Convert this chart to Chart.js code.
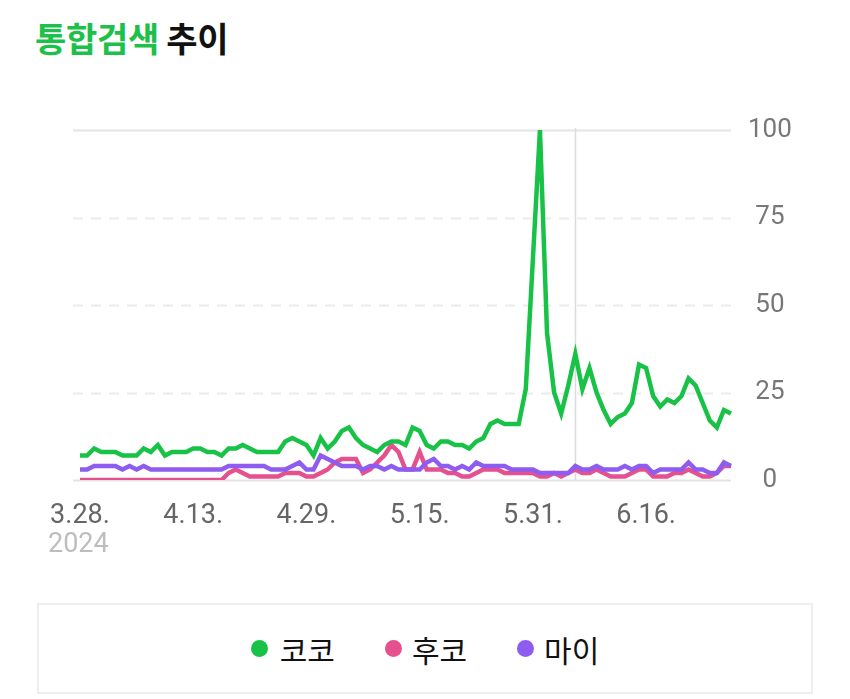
<!DOCTYPE html>
<html>
<head>
<meta charset="utf-8">
<script src="https://cdn.jsdelivr.net/npm/chart.js@4.4.1/dist/chart.umd.min.js"></script>
<style>
  html, body { margin: 0; padding: 0; background: #fff; width: 850px; height: 699px; overflow: hidden; }
  #title { position: absolute; left: 35px; top: 13px; font-family: "Noto Sans CJK KR", sans-serif; font-weight: 700; font-size: 34px; letter-spacing: -0.3px; color: #111; white-space: nowrap; }
  #title .g { color: #1cc04a; }
  #chartWrap { position: absolute; left: 0; top: 0; width: 850px; height: 560px; }
  #year { position: absolute; left: 48px; top: 527px; font-family: Roboto, sans-serif; font-size: 27px; color: #bdbdbd; }
  #legend { position: absolute; left: 37px; top: 603px; width: 776px; height: 91px; border: 2px solid #eeeeee; box-sizing: border-box; display: flex; justify-content: center; align-items: center; font-family: "Noto Sans CJK KR", sans-serif; font-size: 30px; color: #111; }
  #legend .item { display: flex; align-items: center; margin: 0 25px; }
  #legend .dot { width: 17px; height: 17px; border-radius: 50%; margin-right: 10px; }
  #legend .item:first-child .dot { margin-right: 12px; }
</style>
</head>
<body>
<div id="title"><span class="g">통합검색</span> 추이</div>
<div id="chartWrap"><canvas id="c" width="850" height="560"></canvas></div>
<div id="year">2024</div>
<div id="legend"></div>
<script>
const dates = [
  "3.28.","3.29.","3.30.","3.31.",
  "4.1.","4.2.","4.3.","4.4.","4.5.","4.6.","4.7.","4.8.","4.9.","4.10.",
  "4.11.","4.12.","4.13.","4.14.","4.15.","4.16.","4.17.","4.18.","4.19.","4.20.",
  "4.21.","4.22.","4.23.","4.24.","4.25.","4.26.","4.27.","4.28.","4.29.","4.30.",
  "5.1.","5.2.","5.3.","5.4.","5.5.","5.6.","5.7.","5.8.","5.9.","5.10.",
  "5.11.","5.12.","5.13.","5.14.","5.15.","5.16.","5.17.","5.18.","5.19.","5.20.",
  "5.21.","5.22.","5.23.","5.24.","5.25.","5.26.","5.27.","5.28.","5.29.","5.30.","5.31.",
  "6.1.","6.2.","6.3.","6.4.","6.5.","6.6.","6.7.","6.8.","6.9.","6.10.",
  "6.11.","6.12.","6.13.","6.14.","6.15.","6.16.","6.17.","6.18.","6.19.","6.20.",
  "6.21.","6.22.","6.23.","6.24.","6.25.","6.26.","6.27.","6.28."
];
const yearLabel = "2024";
const seriesNames = ["코코", "후코", "마이"];
const coco = [7,7,9,8,8,8,7,7,7,9, 8,10,7,8,8,8,9,9,8,8, 7,9,9,10,9,8,8,8,8,11,
  12,11,10,7,12,9,11,14,15,12, 10,9,8,10,11,11,10,15,14,10, 9,11,11,10,10,9,11,12,16,17,
  16,16,16,26,63,100,42,25,19,27, 36,26,32,25,20,16,18,19,22,33, 32,24,21,23,22,24,29,27,22,17, 15,20,19];
const huko = [0,0,0,0,0,0,0,0,0,0, 0,0,0,0,0,0,0,0,0,0, 0,2,3,2,1,1,1,1,1,2,
  2,2,1,1,2,3,5,6,6,6, 2,3,5,7,10,8,3,3,8,3, 3,3,2,2,1,1,2,3,3,3,
  2,2,2,2,2,1,1,2,1,2, 3,2,2,3,2,1,1,1,2,3, 3,1,1,1,2,2,3,2,1,1, 2,4,4];
const mai = [3,3,4,4,4,4,3,4,3,4, 3,3,3,3,3,3,3,3,3,3, 3,4,4,4,4,4,4,3,3,3,
  4,5,3,3,7,6,5,4,4,4, 3,4,4,3,4,3,3,3,3,5, 6,4,4,3,4,3,5,4,4,4,
  4,3,3,3,3,2,2,2,2,2, 4,3,3,4,3,3,3,4,3,4, 4,2,3,3,3,3,5,3,3,2, 2,5,4];
const yTicks = [0, 25, 50, 75, 100];
const markerIndex = 70;
const colors = ["#17c247", "#e5508f", "#8e5cf0"];

document.getElementById('year').textContent = yearLabel;
document.getElementById('legend').innerHTML = seriesNames.map((n, i) =>
  `<div class="item"><span class="dot" style="background:${colors[i]}"></span><span>${n}</span></div>`).join('');

const gridPlugin = {
  id: 'customGrid',
  beforeDatasetsDraw(chart) {
    const { ctx, chartArea, scales } = chart;
    ctx.save();
    yTicks.forEach(v => {
      const y = Math.round(scales.y.getPixelForValue(v)) + 0.5;
      ctx.beginPath();
      ctx.lineWidth = 2;
      if (v === 0 || v === 100) { ctx.setLineDash([]); ctx.strokeStyle = '#e4e4e4'; }
      else { ctx.setLineDash([10, 8]); ctx.strokeStyle = '#ececec'; }
      ctx.moveTo(chartArea.left - 7, y);
      ctx.lineTo(chartArea.right, y);
      ctx.stroke();
    });
    ctx.setLineDash([]);
    const x = Math.round(scales.x.getPixelForValue(markerIndex)) + 0.5;
    ctx.beginPath();
    ctx.strokeStyle = '#dcdcdc';
    ctx.lineWidth = 1.5;
    ctx.moveTo(x, scales.y.getPixelForValue(100) - 2);
    ctx.lineTo(x, scales.y.getPixelForValue(0));
    ctx.stroke();
    ctx.restore();
  }
};

const mk = (label, data, color) => ({
  label, data, borderColor: color, backgroundColor: color,
  borderWidth: 4.5, pointRadius: 0, tension: 0, fill: false,
  borderJoinStyle: 'miter'
});

new Chart(document.getElementById('c'), {
  type: 'line',
  data: {
    labels: dates,
    datasets: [mk(seriesNames[0], coco, colors[0]), mk(seriesNames[2], mai, colors[2]), mk(seriesNames[1], huko, colors[1])]
  },
  options: {
    responsive: false,
    devicePixelRatio: 1,
    animation: false,
    layout: { padding: { left: 80, top: 130, right: 0, bottom: 0 } },
    plugins: { legend: { display: false }, tooltip: { enabled: false } },
    scales: {
      x: {
        offset: false,
        grid: { display: false },
        border: { display: false },
        ticks: {
          autoSkip: false, maxRotation: 0, minRotation: 0, padding: 12,
          color: '#666', font: { family: 'Roboto', size: 27 },
          callback: (v, i) => (i % 16 === 0 ? dates[i] : null)
        },
        afterFit: s => { s.height = 80; }
      },
      y: {
        position: 'right', min: 0, max: 100,
        grid: { display: false },
        border: { display: false },
        ticks: {
          stepSize: 25, padding: 9, color: '#777', crossAlign: 'center',
          font: { family: 'Roboto', size: 26 },
          callback: v => (yTicks.includes(v) ? String(v) : null)
        },
        afterFit: s => { s.width = 119; }
      }
    }
  },
  plugins: [gridPlugin]
});
</script>
</body>
</html>
